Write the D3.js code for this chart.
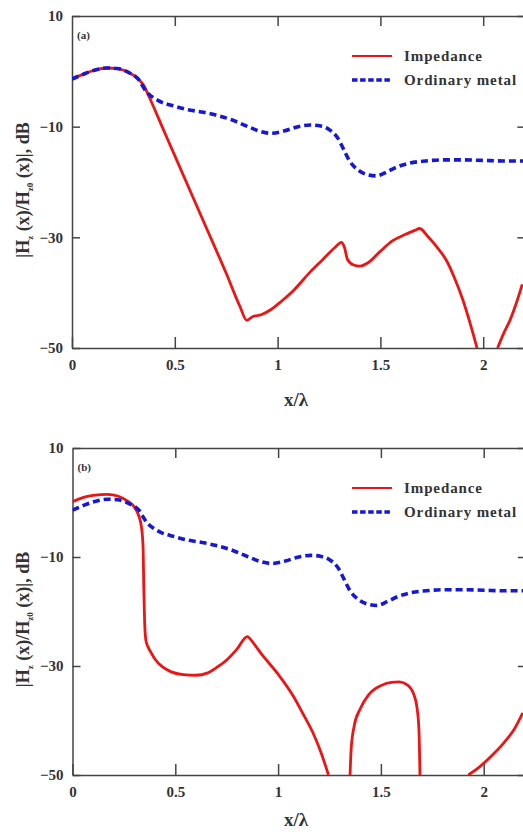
<!DOCTYPE html>
<html>
<head>
    <title>Hz(x)/Hz0(x) along the surface</title>
    <script src="https://d3js.org/d3.v7.min.js"></script>
    <style>
        body {
            margin: 0;
            background-color: #fff;
        }

        svg text {
            font-family: "Liberation Serif", "Times New Roman", serif;
            font-weight: bold;
            fill: #333;
        }

        .axis path,
        .axis line {
            stroke: #444;
            stroke-width: 1.5px;
        }

        .axis text {
            font-size: 15px;
        }

        .legend text {
            font-size: 15px;
            letter-spacing: 0.9px;
        }
    </style>
</head>
<body>
    <svg width="523" height="836"></svg>

    <script>
        // x/lambda tick values and labels
        var xTicks = [0, 0.5, 1, 1.5, 2];
        var xTickLabels = ["0", "0.5", "1", "1.5", "2"];
        var yTicks = [10, -10, -30, -50];
        var yTickLabels = ["10", "\u221210", "\u221230", "\u221250"];
        var seriesNames = ["Impedance", "Ordinary metal"];

        // ordinary metal (same in both panels)
        var metalX = [0, 0.05, 0.10, 0.17, 0.22, 0.28, 0.32, 0.36, 0.42, 0.50, 0.56, 0.64, 0.70, 0.78, 0.85, 0.92, 0.97,
            1.03, 1.10, 1.16, 1.21, 1.25, 1.29, 1.32, 1.35, 1.39, 1.43, 1.48, 1.53, 1.58, 1.64, 1.72, 1.80, 1.90, 2.00, 2.10, 2.20];
        var metalY = [-1.4, -0.6, 0.1, 0.6, 0.5, -0.3, -1.3, -3.6, -5.3, -6.3, -6.9, -7.4, -7.9, -8.8, -9.9, -10.9, -11.2,
            -10.8, -10.0, -9.7, -9.9, -10.5, -11.9, -14.0, -16.2, -17.8, -18.6, -18.9, -18.2, -17.3, -16.6, -16.2, -16.0, -16.0, -16.1, -16.2, -16.2];

        // impedance, panel (a); null = gap below -50
        var impAX = [0, 0.05, 0.10, 0.17, 0.22, 0.28, 0.32, 0.35, 0.375, 0.45, 0.55, 0.65, 0.75, 0.817, 0.85,
            0.88, 0.92, 0.97, 1.02, 1.08, 1.16, 1.22, 1.28, 1.31, 1.325, 1.34, 1.37, 1.40, 1.44, 1.50, 1.56, 1.62, 1.67, 1.69,
            1.73, 1.78, 1.82, 1.86, 1.90, 1.94, 1.97, null, 2.07, 2.10, 2.13, 2.16, 2.19];
        var impAY = [-1.4, -0.6, 0.1, 0.6, 0.5, -0.3, -1.3, -2.6, -4.6, -11.0, -19.5, -28.0, -36.5, -42.5, -45.0,
            -44.3, -44.0, -43.0, -41.5, -39.5, -36.2, -34.0, -31.8, -30.9, -31.8, -34.0, -35.0, -35.2, -34.6, -32.5, -30.6, -29.5, -28.7, -28.4,
            -29.8, -32.0, -34.1, -37.3, -41.2, -46.0, -50, null, -50, -47.3, -45.0, -42.0, -38.5];

        // impedance, panel (b)
        var impBX = [0, 0.05, 0.10, 0.17, 0.22, 0.27, 0.30, 0.32, 0.335, 0.343, 0.347, 0.352, 0.358, 0.38, 0.46, 0.54, 0.60, 0.655,
            0.70, 0.75, 0.80, 0.85, 0.88, 0.915, 1.00, 1.075, 1.12, 1.17, 1.21, 1.245, null,
            1.35, 1.355, 1.37, 1.40, 1.44, 1.50, 1.55, 1.59, 1.63, 1.66, 1.675, 1.685, 1.69, null,
            1.925, 1.98, 2.035, 2.10, 2.15, 2.19];
        var impBY = [0.15, 0.9, 1.3, 1.5, 1.2, 0.2, -0.8, -2.2, -4.4, -8.0, -16.0, -23.0, -25.5, -27.4, -30.7, -31.6, -31.7, -31.3,
            -30.3, -28.9, -26.9, -24.6, -25.8, -27.6, -31.5, -35.6, -38.7, -42.3, -46.0, -50, null,
            -50, -45.4, -41.0, -37.8, -35.3, -33.6, -33.0, -32.9, -33.5, -35.2, -37.5, -41.7, -50, null,
            -50, -48.5, -46.6, -44.0, -41.5, -38.6];

        var red = "#ec1515",
            blue = "#1717d6";

        var svg = d3.select("svg");

        function zip(xs, ys) {
            return xs.map(function(x, i) { return { x: x, y: ys[i] }; });
        }

        var panels = [
            { id: "a", label: "(a)", top: 16, bottom: 348, left: 72, xlabelOffset: 58, imp: zip(impAX, impAY) },
            { id: "b", label: "(b)", top: 448, bottom: 775, left: 72.5, xlabelOffset: 51, imp: zip(impBX, impBY) }
        ];

        panels.forEach(drawPanel);

        function drawPanel(p) {
            var x = d3.scaleLinear().domain([0, 2.2]).range([p.left, p.left + 2.2 * 205.6]);
            var y = d3.scaleLinear().domain([-50, 10]).range([p.bottom, p.top]);
            var g = svg.append("g");

            g.append("clipPath").attr("id", "clip-" + p.id)
                .append("rect")
                .attr("x", x(0)).attr("y", y(10))
                .attr("width", x(2.2) - x(0)).attr("height", y(-50) - y(10));

            // axes, ticks pointing inward
            g.append("g").attr("class", "axis")
                .attr("transform", "translate(0," + y(-50) + ")")
                .call(d3.axisBottom(x).tickValues(xTicks).tickSizeInner(-11).tickSizeOuter(0).tickPadding(11)
                    .tickFormat(function(d, i) { return xTickLabels[i]; }));

            g.append("g").attr("class", "axis")
                .attr("transform", "translate(0," + y(10) + ")")
                .call(d3.axisTop(x).tickValues(xTicks.slice(1)).tickSizeInner(-10).tickSizeOuter(0).tickFormat(""));

            g.append("g").attr("class", "axis")
                .attr("transform", "translate(" + x(0) + ",0)")
                .call(d3.axisLeft(y).tickValues(yTicks).tickSizeInner(-8).tickSizeOuter(0).tickPadding(9)
                    .tickFormat(function(d, i) { return yTickLabels[i]; }));

            g.append("g").attr("class", "axis")
                .attr("transform", "translate(" + x(2.2) + ",0)")
                .call(d3.axisRight(y).tickValues(yTicks).tickSizeInner(-7).tickSizeOuter(0).tickFormat(""));

            var line = d3.line()
                .defined(function(d) { return d.x !== null && d.y !== null; })
                .x(function(d) { return x(d.x); })
                .y(function(d) { return y(d.y); })
                .curve(d3.curveMonotoneX);

            var plot = g.append("g").attr("clip-path", "url(#clip-" + p.id + ")");

            plot.append("path")
                .datum(p.imp)
                .attr("fill", "none")
                .attr("stroke", red)
                .attr("stroke-width", 2.8)
                .attr("stroke-linejoin", "round")
                .attr("d", line);

            plot.append("path")
                .datum(zip(metalX, metalY))
                .attr("fill", "none")
                .attr("stroke", blue)
                .attr("stroke-width", 3.6)
                .attr("stroke-dasharray", "7,4")
                .attr("d", line);

            // panel tag
            g.append("text")
                .attr("x", x(0) + 5)
                .attr("y", y(10) + 23)
                .style("font-size", "11px")
                .text(p.label);

            // legend
            var lg = g.append("g").attr("class", "legend");
            var ly0 = y(10) + 40;
            seriesNames.forEach(function(name, i) {
                var ly = ly0 + i * 24;
                lg.append("line")
                    .attr("x1", 352).attr("x2", 392)
                    .attr("y1", ly).attr("y2", ly)
                    .attr("stroke", i === 0 ? red : blue)
                    .attr("stroke-width", i === 0 ? 2 : 3.6)
                    .attr("stroke-dasharray", i === 0 ? null : "5.5,2.6");
                lg.append("text")
                    .attr("x", 404)
                    .attr("y", ly + 5)
                    .text(name);
            });

            // x label
            g.append("text")
                .attr("x", 296)
                .attr("y", y(-50) + p.xlabelOffset)
                .attr("text-anchor", "middle")
                .style("font-size", "19px")
                .text("x/\u03bb");

            // y label with subscripts
            var yl = g.append("text")
                .attr("transform", "translate(29," + ((y(10) + y(-50)) / 2 + 8) + ") rotate(-90)")
                .attr("text-anchor", "middle")
                .style("font-size", "18px");
            yl.append("tspan").text("|H");
            yl.append("tspan").attr("dy", 4).style("font-size", "9px").text("z");
            yl.append("tspan").attr("dy", -4).text(" (x)/H");
            yl.append("tspan").attr("dy", 4).style("font-size", "9px").text("z0");
            yl.append("tspan").attr("dy", -4).text(" (x)|, dB");
        }
    </script>
</body>
</html>
